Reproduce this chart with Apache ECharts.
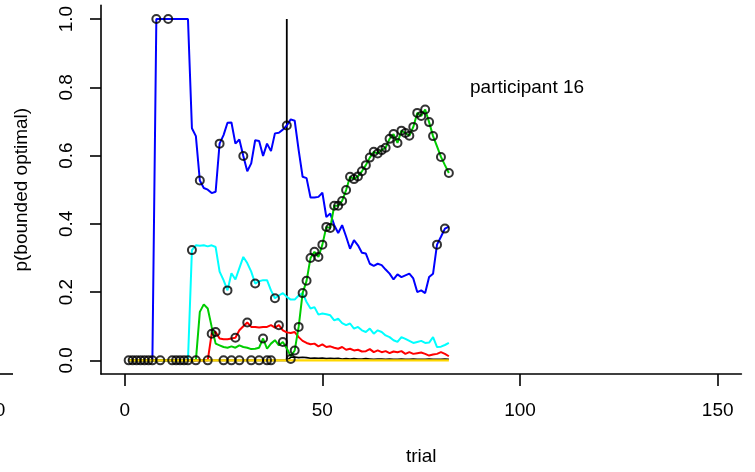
<!DOCTYPE html>
<html>
<head>
<meta charset="utf-8">
<script src="https://cdn.jsdelivr.net/npm/echarts@6/dist/echarts.min.js"></script>
<style>
html,body{margin:0;padding:0;background:#fff;}
#chart{width:755px;height:472px;}
</style>
</head>
<body>
<div id="chart"></div>
<script>
const trials = [1,2,3,4,5,6,7,8,9,10,11,12,13,14,15,16,17,18,19,20,21,22,23,24,25,26,27,28,29,30,31,32,33,34,35,36,37,38,39,40,41,42,43,44,45,46,47,48,49,50,51,52,53,54,55,56,57,58,59,60,61,62,63,64,65,66,67,68,69,70,71,72,73,74,75,76,77,78,79,80,81,82];

const pBlue = [0,0,0,0,0,0,0,
  1,1,1,1,1,1,1,1,1,
  0.68,0.657,0.527,0.505,0.50,0.49,0.494,0.635,0.66,0.696,
  0.697,0.635,0.647,0.599,0.554,0.577,0.645,0.643,0.599,0.635,
  0.613,0.665,0.667,0.676,0.688,0.706,0.702,0.616,0.538,0.534,
  0.477,0.477,0.479,0.491,0.42,0.43,0.396,0.373,0.396,0.363,
  0.327,0.352,0.337,0.315,0.313,0.283,0.277,0.283,0.279,0.266,
  0.254,0.237,0.252,0.244,0.249,0.254,0.24,0.2,0.205,0.197,
  0.244,0.254,0.339,0.362,0.386,0.392];

const pCyan = [0,0,0,0,0,0,0,0,0,0,0,0,0,0,0,0,
  0.323,0.337,0.336,0.337,0.334,0.337,0.332,0.26,0.235,0.205,
  0.255,0.237,0.27,0.303,0.285,0.26,0.225,0.232,0.235,0.235,
  0.205,0.182,0.19,0.197,0.186,0.178,0.178,0.19,0.197,0.171,
  0.152,0.156,0.134,0.137,0.135,0.132,0.117,0.122,0.109,0.103,
  0.108,0.093,0.098,0.088,0.083,0.093,0.078,0.088,0.083,0.073,
  0.068,0.059,0.054,0.068,0.063,0.057,0.051,0.054,0.057,0.051,
  0.052,0.068,0.039,0.04,0.045,0.051];

const pRed = [0,0,0,0,0,0,0,0,0,0,0,0,0,0,0,0,0,0,0,0,0,
  0.078,0.083,0.064,0.062,0.062,0.064,0.066,0.088,0.1,0.111,
  0.098,0.098,0.096,0.098,0.098,0.103,0.096,0.103,0.088,0.082,
  0.08,0.083,0.068,0.057,0.051,0.047,0.049,0.041,0.047,0.039,
  0.041,0.037,0.034,0.039,0.031,0.034,0.029,0.031,0.026,0.027,
  0.033,0.024,0.029,0.024,0.027,0.021,0.026,0.024,0.027,0.019,
  0.024,0.019,0.021,0.023,0.019,0.014,0.017,0.019,0.024,0.019,
  0.012];

const pGreen = [0,0,0,0,0,0,0,0,0,0,0,0,0,0,0,0,0,0,
  0.142,0.164,0.152,0.098,0.049,0.044,0.039,0.037,0.041,0.037,
  0.044,0.039,0.037,0.033,0.034,0.037,0.064,0.034,0.049,0.059,
  0.044,0.054,0.035,0.012,0.029,0.098,0.197,0.233,0.30,0.318,
  0.303,0.339,0.391,0.388,0.453,0.453,0.467,0.499,0.538,0.531,
  0.539,0.554,0.572,0.594,0.611,0.606,0.616,0.623,0.649,0.663,
  0.637,0.673,0.666,0.658,0.684,0.725,0.716,0.735,0.698,0.657,
  0.627,0.596,0.572,0.549];

const pBlack = [0,0,0,0,0,0,0,0,0,0,0,0,0,0,0,0,0,0,0,0,0,0,0,0,0,0,0,0,0,0,0,0,0,0,0,0,0,0,0,0,0,
  0.009,0.01,0.008,0.009,0.008,0.006,0.007,0.006,0.007,0.005,
  0.006,0.005,0.006,0.004,0.005,0.004,0.005,0.004,0.004,0.005,
  0.004,0.003,0.004,0.004,0.003,0.004,0.003,0.003,0.004,0.003,
  0.003,0.004,0.003,0.003,0.003,0.004,0.003,0.003,0.003,0.004,0.003];

const pYellow = [0,0,0,0,0,0,0,0,0,0,0,0,0,0,0,0,0,0,0,0,0,0,0,0,0,0,0,0,0,0,0,0,0,0,0,0,0,0,0,0,0,
  0,0,0,0,0,0,0,0,0,0,0,0,0,0,0,0,0,0,0,0,0,0,0,0,0,0,0,0,0,0,0,0,0,0,0,0,0,0,0,0,0];

const circleTrials = [1,2,3,4,5,6,7,8,9,11,12,13,14,15,16,17,18,19,21,22,23,24,25,26,27,28,29,30,31,32,33,34,35,36,37,38,39,40,41,42,
  43,44,45,46,47,48,49,50,51,52,53,54,55,56,57,58,59,60,61,62,63,64,65,66,67,68,69,70,71,72,73,74,75,76,77,78,79,80,81,82];
const circleValues = [0,0,0,0,0,0,0,1,0,1,0,0,0,0,0,0.323,0,0.527,0,0.078,0.083,0.635,0,0.205,0,0.066,0,0.599,0.111,0,0.225,0,0.064,0,0,0.182,0.103,0.054,0.688,0.004,
  0.029,0.098,0.197,0.233,0.30,0.318,0.303,0.339,0.391,0.388,0.453,0.453,0.467,0.499,0.538,0.531,0.539,0.554,0.572,0.594,0.611,0.606,0.616,0.623,0.649,0.663,0.637,0.673,0.666,0.658,0.684,0.725,0.716,0.735,0.698,0.657,0.339,0.596,0.386,0.549];

const markerTrial = 41;
const markerRange = [0, 1];

const xTicks = [0, 50, 100, 150];
const yTicks = [0, 0.2, 0.4, 0.6, 0.8, 1.0];

const FONT = 'Liberation Sans, Arial, Helvetica, sans-serif';

function zip(xs, ys) { return xs.map((x, i) => [x, ys[i]]); }

function lineSeries(vals, color, width) {
  return {
    type: 'line', data: zip(trials, vals), showSymbol: false, symbol: 'none',
    lineStyle: { color: color, width: width }, silent: true, animation: false
  };
}

const chart = echarts.init(document.getElementById('chart'), null, { renderer: 'canvas' });
chart.setOption({
  animation: false,
  backgroundColor: '#ffffff',
  grid: { left: 101, right: 13.6, top: 5.4, bottom: 98, containLabel: false },
  xAxis: {
    type: 'value', min: -6, max: 156,
    name: 'trial', nameLocation: 'middle', nameGap: 73,
    nameTextStyle: { fontSize: 19, color: '#000', fontFamily: FONT },
    axisLine: { show: true, onZero: false, lineStyle: { color: '#000', width: 1.6 } },
    axisTick: { show: true, customValues: xTicks, length: 12, lineStyle: { color: '#000', width: 1.6 } },
    axisLabel: { customValues: xTicks, fontSize: 19, color: '#000', fontFamily: FONT, margin: 27 },
    splitLine: { show: false }
  },
  yAxis: {
    type: 'value', min: -0.04, max: 1.04,
    name: 'p(bounded optimal)', nameLocation: 'middle', nameGap: 70,
    nameTextStyle: { fontSize: 19, color: '#000', fontFamily: FONT },
    axisLine: { show: true, onZero: false, lineStyle: { color: '#000', width: 1.6 } },
    axisTick: { show: true, customValues: yTicks, length: 11, lineStyle: { color: '#000', width: 1.6 } },
    axisLabel: { customValues: yTicks, rotate: 90, fontSize: 19, color: '#000', fontFamily: FONT, margin: 25,
      formatter: v => v.toFixed(1) },
    splitLine: { show: false }
  },
  graphic: [
    { type: 'line', shape: { x1: 0, y1: 374, x2: 13, y2: 374 }, style: { stroke: '#000', lineWidth: 1.6 } },
    { type: 'text', x: 0, y: 411, style: { text: '0', font: '19px ' + FONT, fill: '#000', textAlign: 'center', textVerticalAlign: 'middle' } },
    { type: 'text', x: 470, y: 88, style: { text: 'participant 16', font: '19px ' + FONT, fill: '#000', textAlign: 'left', textVerticalAlign: 'middle' } }
  ],
  series: [
    { type: 'line', data: markerRange.map(v => [markerTrial, v]), showSymbol: false, symbol: 'none',
      lineStyle: { color: '#000', width: 1.8 }, silent: true },
    lineSeries(pBlue, '#0000FF', 2),
    lineSeries(pCyan, '#00FFFF', 2),
    lineSeries(pRed, '#FF0000', 2),
    lineSeries(pGreen, '#00CD00', 2),
    lineSeries(pBlack, '#000000', 1.6),
    lineSeries(pYellow, '#FFD700', 2.2),
    { type: 'scatter', data: zip(circleTrials, circleValues), symbol: 'circle', symbolSize: 8,
      itemStyle: { color: 'rgba(0,0,0,0)', borderColor: '#000', borderWidth: 2 }, silent: true, z: 5 }
  ]
});
</script>
</body>
</html>
